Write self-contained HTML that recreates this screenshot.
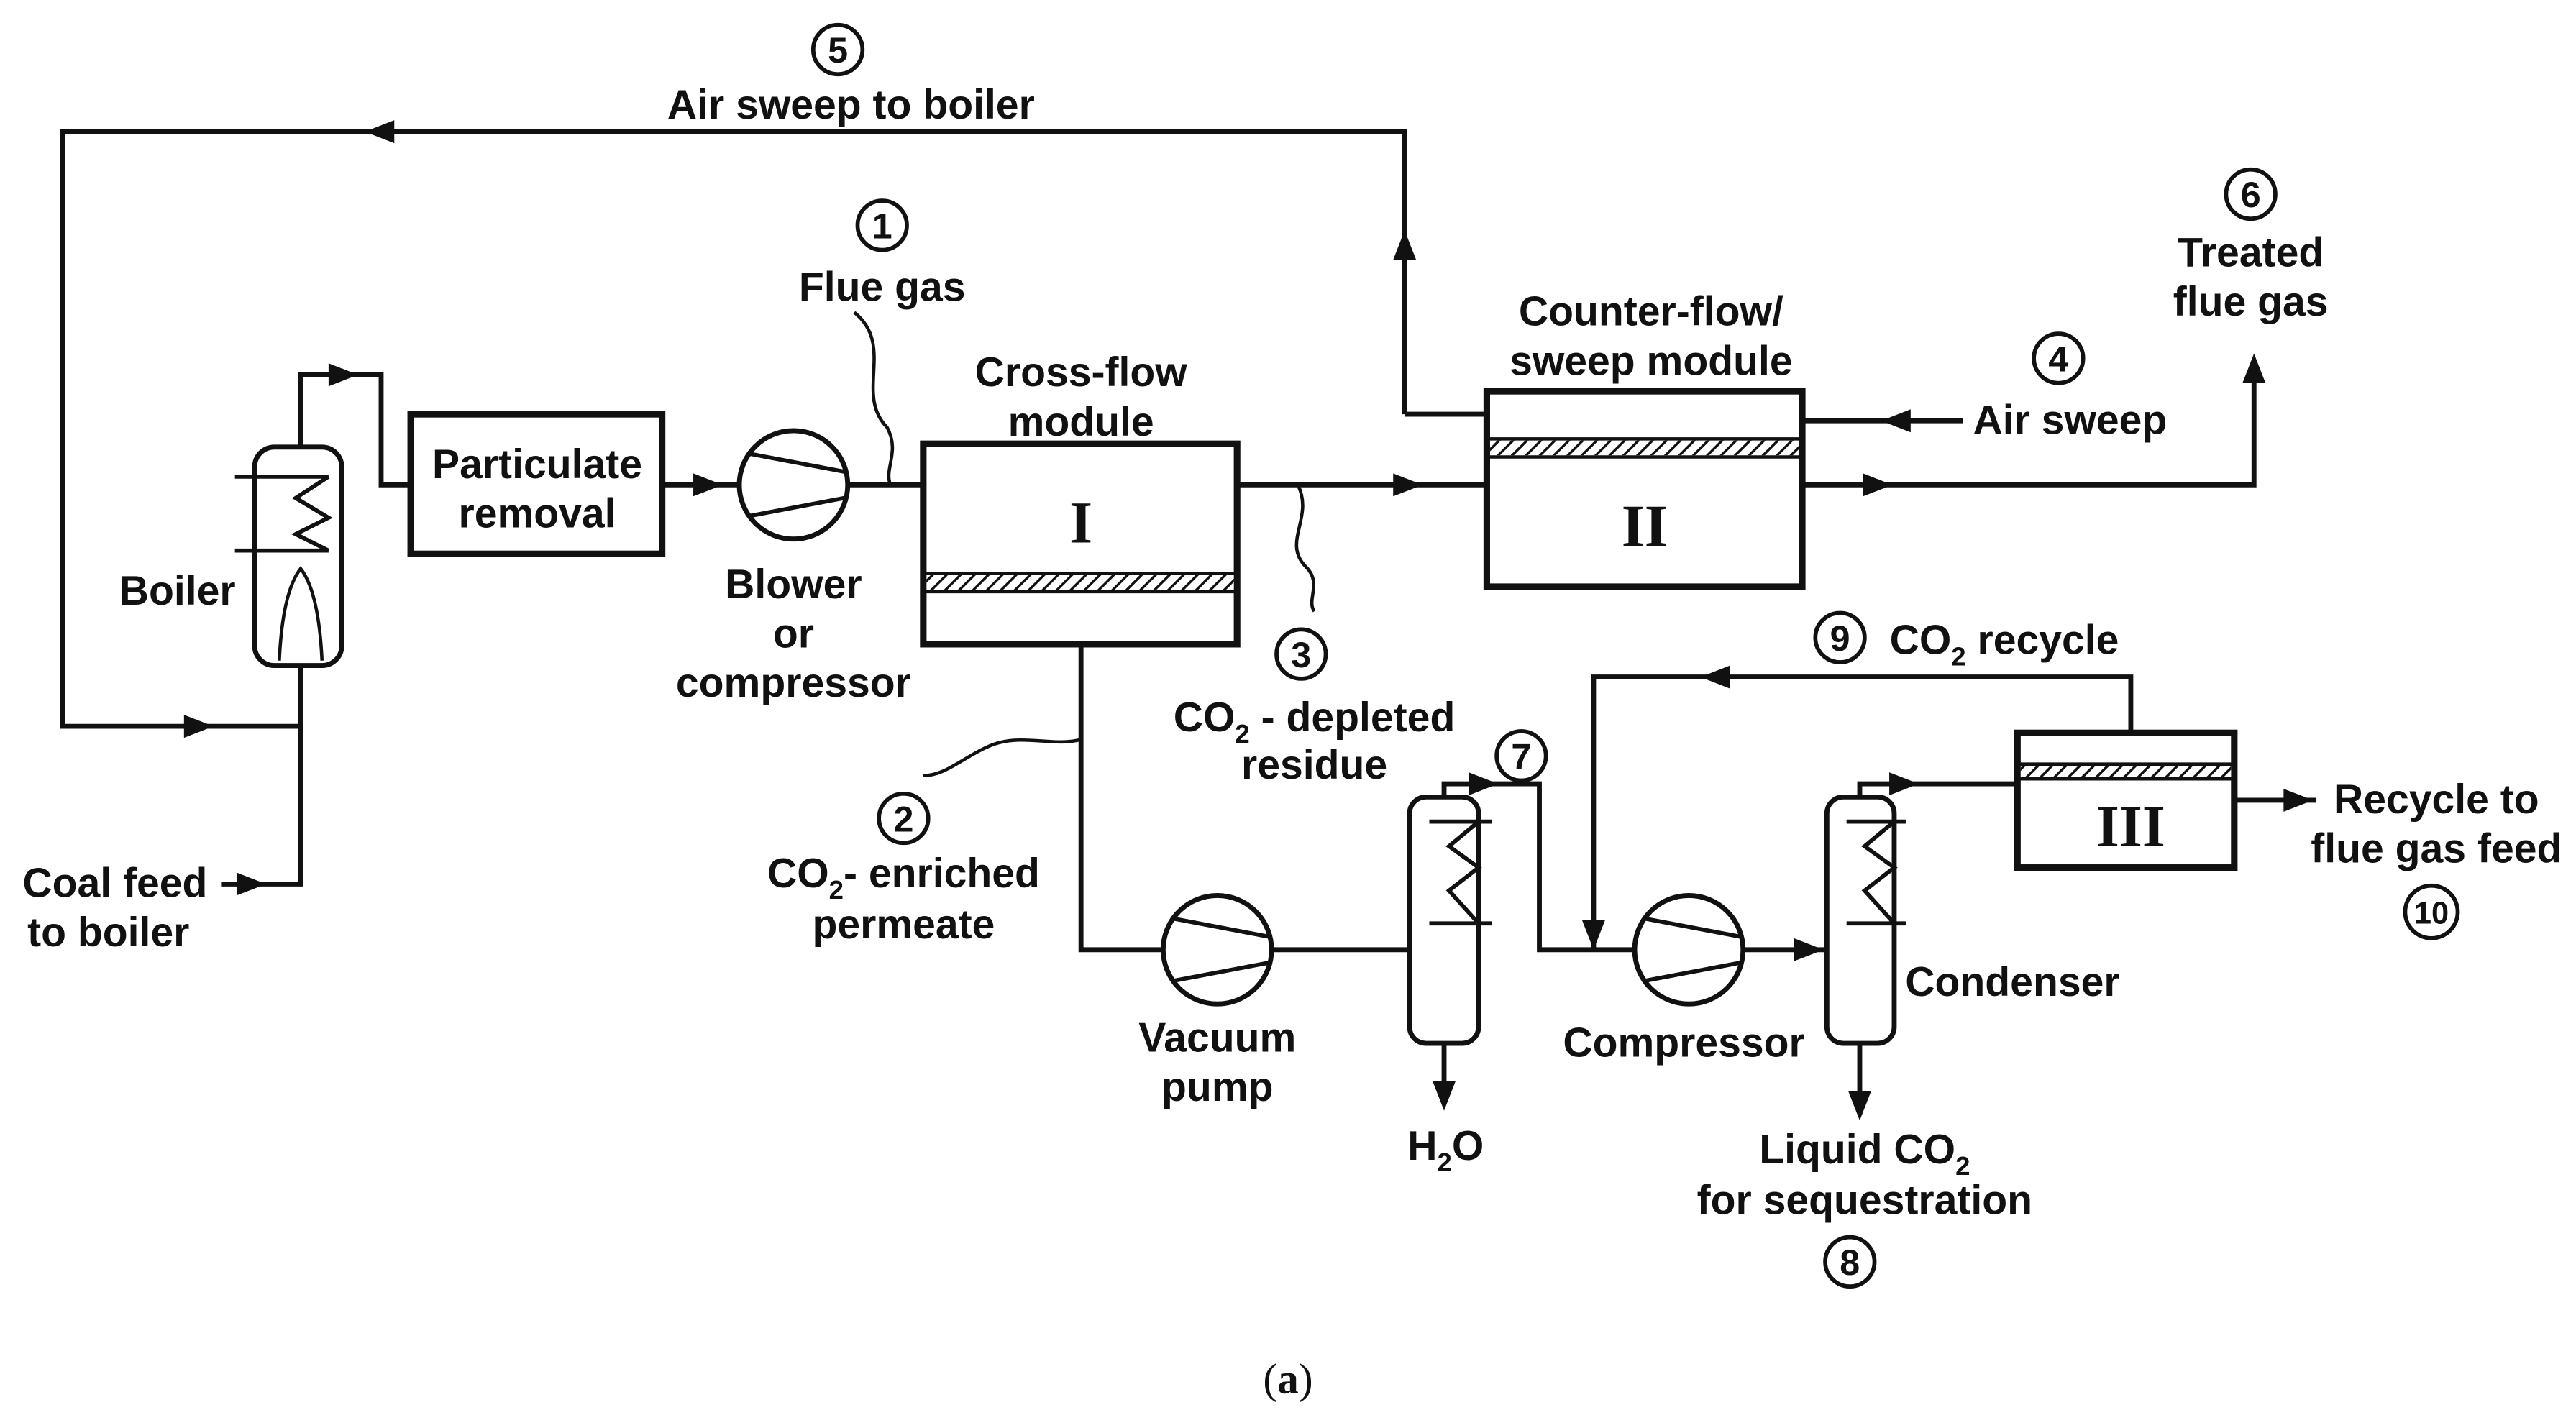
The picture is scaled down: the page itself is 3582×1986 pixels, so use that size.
<!DOCTYPE html>
<html><head><meta charset="utf-8"><style>
html,body{margin:0;padding:0;background:#fff}
svg{display:block}
text{font-family:"Liberation Sans",Arial,sans-serif;font-weight:bold;font-size:25px;fill:#111;text-anchor:middle}
.r{font-family:"Liberation Serif",serif;font-size:36px}
.n{font-size:22px}
.s{font-size:16px}
</style></head><body>
<svg width="3582" height="1986" viewBox="0 0 1568 869" xmlns="http://www.w3.org/2000/svg">
<defs>
<pattern id="h" width="6" height="6" patternUnits="userSpaceOnUse" patternTransform="rotate(45)"><rect width="6" height="6" fill="#fff"/><line x1="0" y1="0" x2="0" y2="6" stroke="#111" stroke-width="3"/></pattern>
<g id="ar"><path d="M0,0 L-18,-7 L-18,7 Z" fill="#111"/></g>
</defs>
<g fill="none" stroke="#111" stroke-width="3">
<polyline points="855,252 855,80 38,80 38,442 183,442"/>
<line x1="855" y1="252" x2="905" y2="252"/>
<rect x="155" y="272" width="53" height="133" rx="12"/>
<polyline points="183,272 183,228 232,228 232,295 250,295"/>
<polyline points="183,405 183,538 135,538"/>
<line x1="143" y1="290" x2="200" y2="290" stroke-width="2.5"/>
<line x1="143" y1="335" x2="200" y2="335" stroke-width="2.5"/>
<polyline points="200,290 180,303 200,315 180,325 200,335" stroke-width="2.5"/>
<path d="M170,402 Q172,360 183,346 Q194,360 196,402" stroke-width="2"/>
<rect x="250" y="252" width="153" height="85" stroke-width="4"/>
<line x1="403" y1="295" x2="450" y2="295"/>
<circle cx="483" cy="295" r="33"/>
<line x1="456" y1="276" x2="514" y2="287" stroke-width="2.5"/>
<line x1="456" y1="314" x2="514" y2="303" stroke-width="2.5"/>
<line x1="516" y1="295" x2="562" y2="295"/>
<path d="M520,190 C545,210 520,240 540,260 C548,275 538,285 542,295" stroke-width="2"/>
<rect x="562" y="270" width="191" height="122" stroke-width="4"/>
<rect x="564" y="350" width="187" height="9" fill="url(#h)" stroke="none"/>
<line x1="562" y1="349" x2="753" y2="349" stroke-width="2"/>
<line x1="562" y1="360" x2="753" y2="360" stroke-width="2"/>
<line x1="753" y1="295" x2="905" y2="295"/>
<path d="M790,295 C800,315 780,330 795,345 C805,355 795,365 800,372" stroke-width="2"/>
<rect x="905" y="238" width="192" height="119" stroke-width="4"/>
<rect x="907" y="268" width="188" height="9" fill="url(#h)" stroke="none"/>
<line x1="905" y1="267" x2="1097" y2="267" stroke-width="2"/>
<line x1="905" y1="278" x2="1097" y2="278" stroke-width="2"/>
<line x1="1195" y1="256" x2="1097" y2="256"/>
<polyline points="1097,295 1372,295 1372,220"/>
<polyline points="658,392 658,578 708,578"/>
<path d="M658,450 C640,455 620,445 600,455 C585,462 575,472 562,472" stroke-width="2"/>
<circle cx="741" cy="578" r="33"/>
<line x1="714" y1="559" x2="772" y2="570" stroke-width="2.5"/>
<line x1="714" y1="597" x2="772" y2="586" stroke-width="2.5"/>
<line x1="774" y1="578" x2="858" y2="578"/>
<rect x="858" y="485" width="42" height="150" rx="10"/>
<polyline points="879,485 879,477 937,477 937,578 995,578"/>
<line x1="879" y1="635" x2="879" y2="672"/>
<line x1="870" y1="500" x2="908" y2="500" stroke-width="2.5"/>
<line x1="870" y1="562" x2="908" y2="562" stroke-width="2.5"/>
<polyline points="900,500 882,515 900,528 882,542 900,562" stroke-width="2.5"/>
<circle cx="1028" cy="578" r="33"/>
<line x1="1001" y1="559" x2="1059" y2="570" stroke-width="2.5"/>
<line x1="1001" y1="597" x2="1059" y2="586" stroke-width="2.5"/>
<line x1="1061" y1="578" x2="1112" y2="578"/>
<rect x="1112" y="485" width="41" height="150" rx="10"/>
<polyline points="1132,485 1132,477 1228,477"/>
<line x1="1132" y1="635" x2="1132" y2="678"/>
<line x1="1124" y1="500" x2="1160" y2="500" stroke-width="2.5"/>
<line x1="1124" y1="562" x2="1160" y2="562" stroke-width="2.5"/>
<polyline points="1153,500 1135,515 1153,528 1135,542 1153,562" stroke-width="2.5"/>
<rect x="1228" y="446" width="132" height="82" stroke-width="4"/>
<rect x="1230" y="466" width="128" height="7" fill="url(#h)" stroke="none"/>
<line x1="1228" y1="465" x2="1360" y2="465" stroke-width="2"/>
<line x1="1228" y1="474" x2="1360" y2="474" stroke-width="2"/>
<line x1="1360" y1="487" x2="1410" y2="487"/>
<polyline points="1297,446 1297,412 970,412 970,578"/>
<g stroke-width="2.5">
<circle cx="510" cy="30" r="15"/>
<circle cx="537" cy="137" r="15"/>
<circle cx="792" cy="398" r="15"/>
<circle cx="1253" cy="218" r="15"/>
<circle cx="1370" cy="118" r="15"/>
<circle cx="550" cy="498" r="15"/>
<circle cx="926" cy="460" r="15"/>
<circle cx="1126" cy="768" r="15"/>
<circle cx="1120" cy="388" r="15"/>
<circle cx="1480" cy="555" r="16"/>
</g>
</g>
<use href="#ar" transform="translate(222,80) rotate(180)"/>
<use href="#ar" transform="translate(130,442)"/>
<use href="#ar" transform="translate(855,140) rotate(-90)"/>
<use href="#ar" transform="translate(218,228)"/>
<use href="#ar" transform="translate(162,538)"/>
<use href="#ar" transform="translate(440,295)"/>
<use href="#ar" transform="translate(866,295)"/>
<use href="#ar" transform="translate(1145,256) rotate(180)"/>
<use href="#ar" transform="translate(1152,295)"/>
<use href="#ar" transform="translate(1372,215) rotate(-90)"/>
<use href="#ar" transform="translate(912,477)"/>
<use href="#ar" transform="translate(879,676) rotate(90)"/>
<use href="#ar" transform="translate(1110,578)"/>
<use href="#ar" transform="translate(1168,477)"/>
<use href="#ar" transform="translate(1132,682) rotate(90)"/>
<use href="#ar" transform="translate(1408,487)"/>
<use href="#ar" transform="translate(1035,412) rotate(180)"/>
<use href="#ar" transform="translate(970,578) rotate(90)"/>
<text x="510" y="38" class="n">5</text>
<text x="537" y="145" class="n">1</text>
<text x="792" y="406" class="n">3</text>
<text x="1253" y="226" class="n">4</text>
<text x="1370" y="126" class="n">6</text>
<text x="550" y="506" class="n">2</text>
<text x="926" y="468" class="n">7</text>
<text x="1126" y="776" class="n">8</text>
<text x="1120" y="396" class="n">9</text>
<text x="1480" y="562" class="n" style="font-size:19px">10</text>
<text x="518" y="72">Air sweep to boiler</text>
<text x="537" y="183">Flue gas</text>
<text x="658" y="235">Cross-flow</text>
<text x="658" y="265">module</text>
<text x="658" y="330" class="r">I</text>
<text x="1005" y="198">Counter-flow/</text>
<text x="1005" y="228">sweep module</text>
<text x="1001" y="332" class="r">II</text>
<text x="1297" y="515" class="r">III</text>
<text x="1260" y="264">Air sweep</text>
<text x="1370" y="162">Treated</text>
<text x="1370" y="192">flue gas</text>
<text x="327" y="291">Particulate</text>
<text x="327" y="321">removal</text>
<text x="108" y="368">Boiler</text>
<text x="70" y="546">Coal feed</text>
<text x="66" y="576">to boiler</text>
<text x="483" y="364">Blower</text>
<text x="483" y="394">or</text>
<text x="483" y="424">compressor</text>
<text x="800" y="445">CO<tspan class="s" dy="7">2</tspan><tspan dy="-7"> - depleted</tspan></text>
<text x="800" y="474">residue</text>
<text x="550" y="540">CO<tspan class="s" dy="7">2</tspan><tspan dy="-7">- enriched</tspan></text>
<text x="550" y="571">permeate</text>
<text x="741" y="640">Vacuum</text>
<text x="741" y="670">pump</text>
<text x="880" y="706">H<tspan class="s" dy="7">2</tspan><tspan dy="-7">O</tspan></text>
<text x="1025" y="643">Compressor</text>
<text x="1225" y="606">Condenser</text>
<text x="1135" y="708">Liquid CO<tspan class="s" dy="7">2</tspan></text>
<text x="1135" y="739">for sequestration</text>
<text x="1220" y="398">CO<tspan class="s" dy="7">2</tspan><tspan dy="-7"> recycle</tspan></text>
<text x="1483" y="495">Recycle to</text>
<text x="1483" y="525">flue gas feed</text>
<text x="784" y="848" style="font-family:'Liberation Serif',serif;font-weight:normal;font-size:26px">(<tspan font-weight="bold">a</tspan>)</text>
</svg>
</body></html>
